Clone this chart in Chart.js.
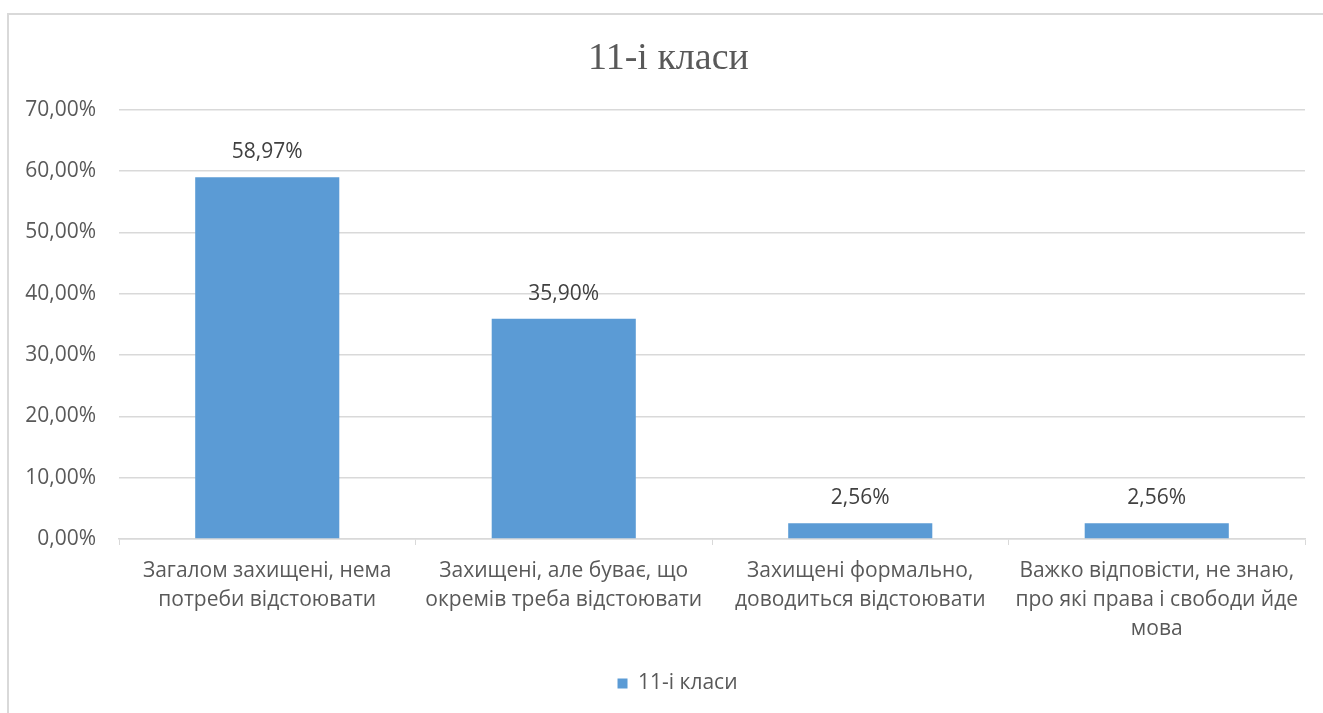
<!DOCTYPE html>
<html>
<head>
<meta charset="utf-8">
<script src="https://cdn.jsdelivr.net/npm/chart.js@4"></script>
<style>
    html, body { margin: 0; padding: 0; background: #fff; overflow: hidden; }
    #frame { position: absolute; left: 7px; top: 13px; width: 1400px; height: 800px; border: 2px solid #d9d9d9; }
    #chart { position: absolute; left: 0; top: 0; }
</style>
</head>
<body>
<div id="frame"></div>
<canvas id="chart" width="1323" height="713"></canvas>
<script>
// Chart data
const chartTitle = '11-і класи';
const categories = [
    ['Загалом захищені, нема', 'потреби відстоювати'],
    ['Захищені, але буває, що', 'окремів треба відстоювати'],
    ['Захищені формально,', 'доводиться відстоювати'],
    ['Важко відповісти, не знаю,', 'про які права і свободи йде', 'мова']
];
const seriesName = '11-і класи';
const seriesValues = [58.97, 35.90, 2.56, 2.56];
const yTicks = [0, 10, 20, 30, 40, 50, 60, 70];

const fontFamily = "'Open Sans', 'Noto Sans', sans-serif";

function formatPercent(v) {
    return v.toFixed(2).replace('.', ',') + '%';
}

// Draws value labels above each bar
const barValueLabels = {
    id: 'barValueLabels',
    afterDatasetsDraw(chart) {
        const ctx = chart.ctx;
        ctx.save();
        ctx.font = '21px ' + fontFamily;
        ctx.fillStyle = '#404040';
        ctx.textAlign = 'center';
        ctx.textBaseline = 'middle';
        chart.getDatasetMeta(0).data.forEach((bar, i) => {
            ctx.fillText(formatPercent(seriesValues[i]), bar.x, bar.y - 25);
        });
        ctx.restore();
    }
};

// Title and legend sit a bit right of the plot centre in the original
const shiftHeaderFooter = {
    id: 'shiftHeaderFooter',
    afterLayout(chart) {
        if (chart.titleBlock) {
            chart.titleBlock.left += 16;
            chart.titleBlock.right += 16;
        }
        if (chart.legend) {
            chart.legend.left += 25;
            chart.legend.right += 25;
        }
    }
};

document.addEventListener('DOMContentLoaded', function() {
    const ctx = document.getElementById('chart').getContext('2d');
    new Chart(ctx, {
        type: 'bar',
        data: {
            labels: categories,
            datasets: [{
                label: seriesName,
                data: seriesValues,
                backgroundColor: '#5b9bd5',
                borderWidth: 0,
                categoryPercentage: 1,
                barPercentage: 0.486
            }]
        },
        options: {
            responsive: false,
            animation: false,
            devicePixelRatio: 1,
            layout: {
                padding: { left: 0, right: 18, top: 0, bottom: 9 }
            },
            plugins: {
                title: {
                    display: true,
                    text: chartTitle,
                    color: '#595959',
                    font: { family: "'Liberation Serif', serif", size: 38, weight: 'normal', lineHeight: 1.2 },
                    padding: { top: 36, bottom: 28 }
                },
                legend: {
                    position: 'bottom',
                    labels: {
                        boxWidth: 10,
                        boxHeight: 10,
                        color: '#595959',
                        font: { family: fontFamily, size: 21, lineHeight: 1.2 }
                    }
                },
                tooltip: { enabled: false }
            },
            scales: {
                x: {
                    grid: {
                        offset: true,
                        drawOnChartArea: false,
                        drawTicks: true,
                        tickLength: 6,
                        color: '#d9d9d9'
                    },
                    border: { display: true, color: '#d9d9d9', width: 1.5 },
                    ticks: {
                        color: '#595959',
                        font: { family: fontFamily, size: 21, lineHeight: 1.4 },
                        padding: 11,
                        maxRotation: 0,
                        autoSkip: false
                    },
                    afterFit: function(scale) {
                        scale.height = 124;
                    }
                },
                y: {
                    min: 0,
                    max: 70,
                    grid: { color: '#d9d9d9', lineWidth: 1.5, drawTicks: false },
                    border: { display: false },
                    afterBuildTicks: function(scale) {
                        scale.ticks = yTicks.map(v => ({ value: v }));
                    },
                    ticks: {
                        color: '#595959',
                        font: { family: fontFamily, size: 21 },
                        padding: 23,
                        callback: function(value) {
                            return formatPercent(value);
                        }
                    },
                    afterFit: function(scale) {
                        scale.width = 119;
                    }
                }
            }
        },
        plugins: [barValueLabels, shiftHeaderFooter]
    });
});
</script>
</body>
</html>
